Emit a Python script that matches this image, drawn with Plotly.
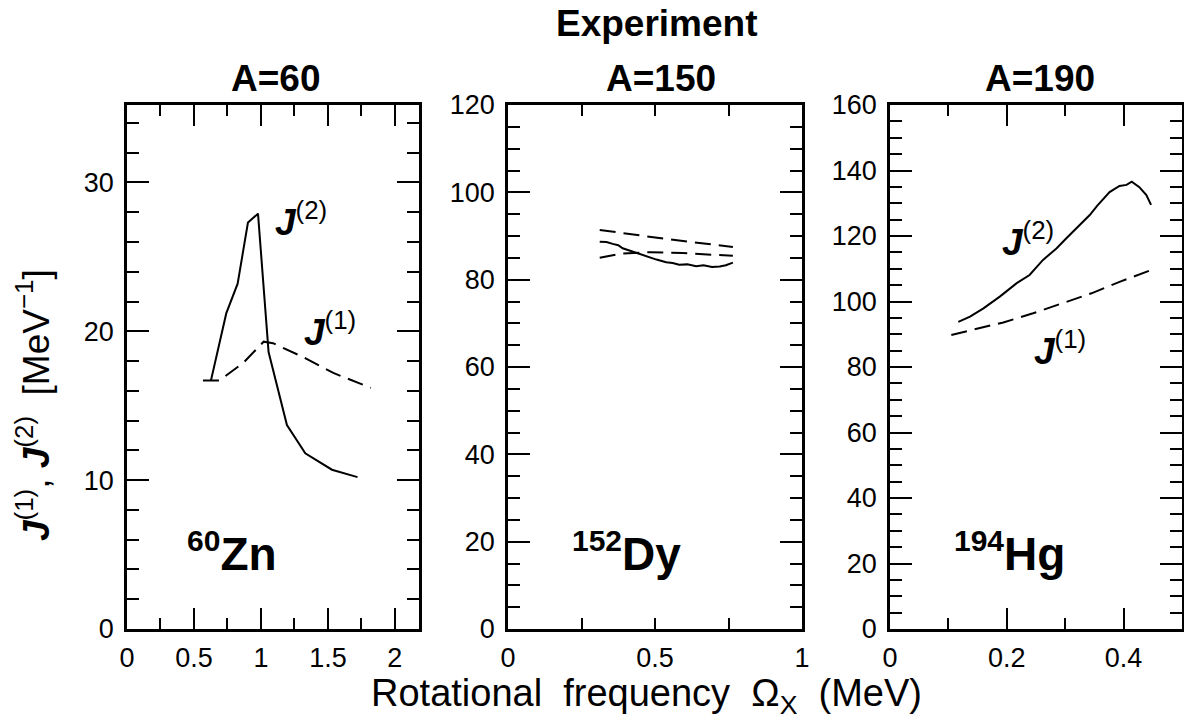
import plotly.graph_objects as go

# ---------------- data ----------------
zn_omega_j2 = [0.627, 0.741, 0.826, 0.903, 0.978, 1.057, 1.194, 1.331, 1.530, 1.721]
zn_j2 = [16.7, 21.2, 23.2, 27.3, 27.9, 18.6, 13.7, 11.8, 10.7, 10.2]
zn_omega_j1 = [0.567, 0.692, 0.871, 1.02, 1.09, 1.33, 1.54, 1.82]
zn_j1 = [16.7, 16.7, 17.9, 19.3, 19.2, 18.2, 17.2, 16.2]

dy_omega_j2 = [0.312, 0.335, 0.356, 0.375, 0.39, 0.424, 0.47, 0.505, 0.538, 0.56, 0.582, 0.61, 0.64, 0.665, 0.694, 0.72, 0.741, 0.765]
dy_j2 = [88.7, 88.6, 88.2, 87.9, 87.2, 86.4, 85.3, 84.6, 84.0, 83.8, 83.4, 83.5, 83.1, 83.3, 82.9, 83.0, 83.3, 83.9]
dy_omega_j1a = [0.312, 0.54, 0.765]
dy_j1a = [91.4, 89.3, 87.5]
dy_omega_j1b = [0.312, 0.386, 0.485, 0.594, 0.696, 0.765]
dy_j1b = [85.0, 86.0, 86.3, 86.1, 85.7, 85.5]

hg_omega_j2 = [0.117, 0.137, 0.160, 0.188, 0.217, 0.239, 0.262, 0.285, 0.302, 0.319, 0.342,
               0.355, 0.365, 0.376, 0.393, 0.405, 0.414, 0.427, 0.439, 0.447]
hg_j2 = [93.8, 95.4, 97.9, 101.5, 105.6, 108.1, 112.7, 116.2, 119.3, 122.3, 126.4,
         129.3, 131.4, 133.4, 135.3, 135.6, 136.6, 134.9, 132.5, 129.5]
hg_omega_j1 = [0.105, 0.194, 0.245, 0.296, 0.345, 0.393, 0.447]
hg_j1 = [89.8, 93.6, 96.4, 99.4, 102.5, 106.0, 109.6]

panel_titles = ["A=60", "A=150", "A=190"]
nuclides = [("60", "Zn"), ("152", "Dy"), ("194", "Hg")]

# ---------------- figure ----------------
W, H = 1184, 723
FONT = "Liberation Sans, Arial, sans-serif"


def px(x):
    return x / W


def py(y):
    return 1 - y / H


fig = go.Figure()
solid = dict(color="black", width=2)
dashed = dict(color="black", width=2, dash="16px,8px")

fig.add_trace(go.Scatter(x=zn_omega_j2, y=zn_j2, mode="lines", line=solid, xaxis="x", yaxis="y"))
fig.add_trace(go.Scatter(x=zn_omega_j1, y=zn_j1, mode="lines", line=dashed, xaxis="x", yaxis="y"))
fig.add_trace(go.Scatter(x=dy_omega_j2, y=dy_j2, mode="lines", line=solid, xaxis="x2", yaxis="y2"))
fig.add_trace(go.Scatter(x=dy_omega_j1a, y=dy_j1a, mode="lines", line=dashed, xaxis="x2", yaxis="y2"))
fig.add_trace(go.Scatter(x=dy_omega_j1b, y=dy_j1b, mode="lines", line=dashed, xaxis="x2", yaxis="y2"))
fig.add_trace(go.Scatter(x=hg_omega_j2, y=hg_j2, mode="lines", line=solid, xaxis="x3", yaxis="y3"))
fig.add_trace(go.Scatter(x=hg_omega_j1, y=hg_j1, mode="lines", line=dashed, xaxis="x3", yaxis="y3"))

tickfont = dict(family=FONT, size=27, color="black")


def axis(domain, rng, dtick, mdtick, majlen, minlen, anchor, standoff):
    return dict(
        domain=domain, range=rng, anchor=anchor, automargin=False,
        showline=True, linecolor="black", linewidth=2.5, mirror="ticks",
        ticks="inside", ticklen=majlen, tickwidth=2, tickcolor="black",
        tickmode="linear", tick0=0, dtick=dtick, ticklabelstandoff=standoff,
        minor=dict(ticks="inside", ticklen=minlen, tickwidth=2, tickcolor="black",
                   tick0=0, dtick=mdtick, showgrid=False),
        showgrid=False, zeroline=False, tickfont=tickfont,
    )


ydom = [py(629), py(105)]
xd1 = [px(127), px(419)]
xd2 = [px(508), px(802)]
xd3 = [px(890), px(1182)]

fig.update_layout(
    width=W, height=H,
    margin=dict(l=0, r=0, t=0, b=0, autoexpand=False),
    paper_bgcolor="white", plot_bgcolor="white",
    showlegend=False,
    xaxis=axis(xd1, [0, 2.18], 0.5, 0.25, 21, 11, "y", 3),
    yaxis=axis(ydom, [0, 35.2], 10, 2, 22, 12, "x", 5),
    xaxis2=axis(xd2, [0, 1], 0.5, 0.25, 11, 11, "y2", 3),
    yaxis2=axis(ydom, [0, 120], 20, 5, 22, 12, "x2", 5),
    xaxis3=axis(xd3, [0, 0.5], 0.2, 0.1, 21, 11, "y3", 3),
    yaxis3=axis(ydom, [0, 160], 20, 5, 22, 12, "x3", 5),
)

ann = []


def add_text(text, x, y, size, xanchor="center", yanchor="middle", angle=0, bold=False):
    ann.append(dict(text=text, x=px(x), y=py(y), xref="paper", yref="paper",
                    xanchor=xanchor, yanchor=yanchor, showarrow=False, textangle=angle,
                    font=dict(family=FONT, size=size, color="black",
                              weight="bold" if bold else "normal")))


add_text("Experiment", 657, 23, 37, bold=True)
for t, xc in zip(panel_titles, [275, 661, 1040]):
    add_text(t, xc, 78, 37, bold=True)

sp = "\u00a0"
add_text(f"Rotational{sp}{sp}frequency{sp}{sp}\u03a9<sub>X</sub>{sp}{sp}(MeV)", 646, 696, 38)
add_text(f"<b><i>J</i></b><sup>(1)</sup>,{sp}<b><i>J</i></b><sup>(2)</sup>{sp}{sp}[MeV<sup>\u22121</sup>]",
         33, 405, 37, angle=-90)

jlab = "<b><i>J</i></b><sup>({})</sup>"
add_text(jlab.format(2), 273, 219, 37, xanchor="left")
add_text(jlab.format(1), 302, 330, 37, xanchor="left")
add_text(jlab.format(2), 1000, 240, 37, xanchor="left")
add_text(jlab.format(1), 1032, 348, 37, xanchor="left")

for (a, el), xl in zip(nuclides, [185, 570, 952]):
    add_text(f"<sup><b><span style='font-size:30px'>{a}</span></b></sup><b>{el}</b>",
             xl, 552, 46, xanchor="left")

fig.update_layout(annotations=ann)
fig.write_html("out.html", config={"displayModeBar": False},
               post_script="document.body.style.margin='0';document.body.style.overflow='hidden';")
